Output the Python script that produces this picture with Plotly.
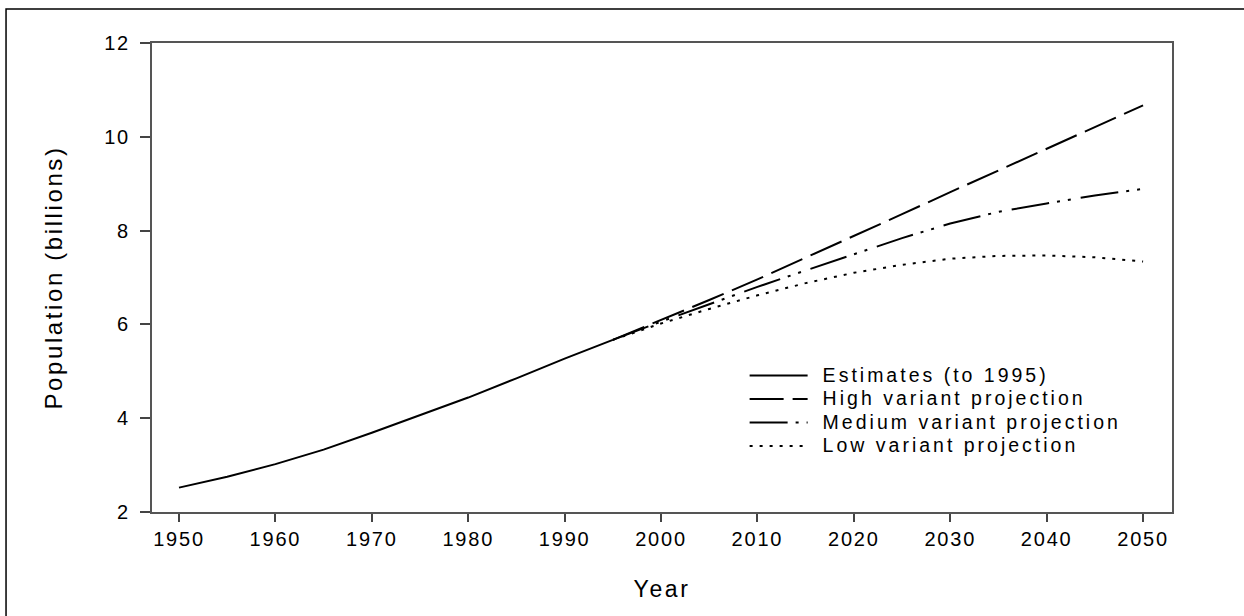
import plotly.graph_objects as go

# Estimates (to 1995)
est_years = [1950, 1955, 1960, 1965, 1970, 1975, 1980, 1985, 1990, 1995]
est_pop = [2.52, 2.75, 3.02, 3.33, 3.69, 4.07, 4.44, 4.85, 5.27, 5.67]

# Projections
proj_years = [1995, 2000, 2005, 2010, 2015, 2020, 2025, 2030, 2035, 2040, 2045, 2050]
high_pop = [5.67, 6.09, 6.52, 6.96, 7.42, 7.89, 8.35, 8.82, 9.28, 9.75, 10.21, 10.67]
medium_pop = [5.67, 6.06, 6.43, 6.80, 7.15, 7.50, 7.84, 8.15, 8.40, 8.58, 8.75, 8.89]
low_pop = [5.67, 6.02, 6.33, 6.62, 6.88, 7.10, 7.27, 7.40, 7.46, 7.47, 7.43, 7.34]

series_names = ["Estimates (to 1995)", "High variant projection",
                "Medium variant projection", "Low variant projection"]

x_ticks = [1950, 1960, 1970, 1980, 1990, 2000, 2010, 2020, 2030, 2040, 2050]
y_ticks = [2, 4, 6, 8, 10, 12]

FONT = "Liberation Sans, Arial, sans-serif"

fig = go.Figure()
fig.add_trace(go.Scatter(x=est_years, y=est_pop, mode="lines", name=series_names[0],
                         line=dict(color="black", width=2, dash="solid")))
fig.add_trace(go.Scatter(x=proj_years, y=high_pop, mode="lines", name=series_names[1],
                         line=dict(color="black", width=2, dash="34px,9px")))
fig.add_trace(go.Scatter(x=proj_years, y=medium_pop, mode="lines", name=series_names[2],
                         line=dict(color="black", width=2, dash="38px,8px,3px,8px,3px,10px")))
fig.add_trace(go.Scatter(x=proj_years, y=low_pop, mode="lines", name=series_names[3],
                         line=dict(color="black", width=2, dash="3px,7px")))

fig.update_layout(
    width=1244, height=616,
    margin=dict(l=152, r=72, t=43, b=104),
    paper_bgcolor="white", plot_bgcolor="white",
    font=dict(family=FONT, color="black", size=20),
    showlegend=True,
    legend=dict(x=0.581, y=0.327, xanchor="left", yanchor="top",
                bgcolor="rgba(0,0,0,0)", font=dict(size=15.8, family=FONT),
                itemwidth=68, tracegroupgap=0),
    shapes=[dict(type="rect", xref="paper", yref="paper",
                 x0=-0.1431, x1=1.08, y0=-0.25, y1=1.0725,
                 line=dict(color="black", width=1.5), layer="below")],
)

fig.update_xaxes(range=[1947.2, 2053.0], tickvals=x_ticks, ticktext=[str(v) for v in x_ticks],
                 ticks="outside", ticklen=8, tickwidth=1.5, tickcolor="#444",
                 showline=True, linecolor="#555", linewidth=2, mirror=True,
                 showgrid=False, zeroline=False,
                 tickfont=dict(size=20, family=FONT),
                 title=dict(text="Year", font=dict(size=23, family=FONT), standoff=32))
fig.update_yaxes(range=[2, 12], tickvals=y_ticks,
                 ticks="outside", ticklen=10, tickwidth=1.5, tickcolor="#444",
                 showline=True, linecolor="#555", linewidth=2, mirror=True,
                 showgrid=False, zeroline=False, ticklabelstandoff=6,
                 tickfont=dict(size=20, family=FONT),
                 title=dict(text="Population (billions)", font=dict(size=24, family=FONT), standoff=38))

post = """
var gd=document.getElementById('{plot_id}');
var s=document.createElement('style');
s.textContent='body{margin:0}.xtick text,.ytick text{letter-spacing:1.8px}.legendtext{font-size:19.5px !important;letter-spacing:3px}.g-xtitle text,.g-ytitle text{letter-spacing:2.6px}';
document.head.appendChild(s);
gd.querySelectorAll('.legend [clip-path]').forEach(function(e){e.removeAttribute('clip-path');});
gd.querySelectorAll('.legendlines path').forEach(function(p){p.setAttribute('d','M5,0h58');});
"""
fig.write_html("out.html", post_script=post, config={"displayModeBar": False})
